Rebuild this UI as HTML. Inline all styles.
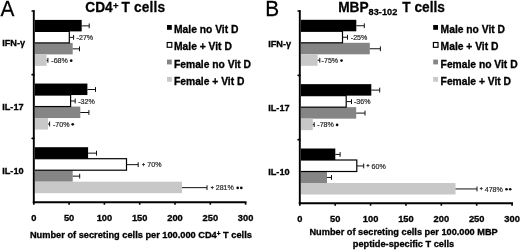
<!DOCTYPE html>
<html><head><meta charset="utf-8"><style>
html,body{margin:0;padding:0;background:#fff;}
body{width:520px;height:250px;overflow:hidden;}
svg{display:block;font-family:"Liberation Sans", sans-serif;filter:blur(0.35px);}
</style></head><body>
<svg width="520" height="250" viewBox="0 0 520 250">
<rect width="520" height="250" fill="#fff"/>
<rect x="34.80" y="19.90" width="46.90" height="11.50" fill="#000"/>
<text transform="translate(76.60,40.15) scale(1,1.1)" font-size="7.1" fill="#2a2a2a" stroke="#333" stroke-width="0.22">-27%</text>
<rect x="34.80" y="42.90" width="37.90" height="11.50" fill="#858585"/>
<rect x="34.80" y="54.40" width="11.80" height="11.50" fill="#c8c8c8"/>
<text transform="translate(51.30,63.15) scale(1,1.1)" font-size="7.1" fill="#2a2a2a" stroke="#333" stroke-width="0.22">-68%</text>
<circle cx="71.20" cy="60.65" r="1.35" fill="#111"/>
<rect x="34.80" y="83.55" width="52.60" height="11.50" fill="#000"/>
<text transform="translate(78.20,103.80) scale(1,1.1)" font-size="7.1" fill="#2a2a2a" stroke="#333" stroke-width="0.22">-32%</text>
<rect x="34.80" y="106.55" width="45.50" height="11.50" fill="#858585"/>
<rect x="34.80" y="118.05" width="13.20" height="11.50" fill="#c8c8c8"/>
<text transform="translate(53.00,126.80) scale(1,1.1)" font-size="7.1" fill="#2a2a2a" stroke="#333" stroke-width="0.22">-70%</text>
<circle cx="72.70" cy="124.30" r="1.35" fill="#111"/>
<rect x="34.80" y="147.20" width="53.30" height="11.50" fill="#000"/>
<text transform="translate(143.40,166.15) scale(1,1.1)" font-size="5.0" text-anchor="middle" fill="#2a2a2a" stroke="#333" stroke-width="0.4">+</text>
<text transform="translate(147.30,167.45) scale(1,1.1)" font-size="7.1" fill="#2a2a2a" stroke="#333" stroke-width="0.22">70%</text>
<rect x="34.80" y="170.20" width="37.90" height="11.50" fill="#858585"/>
<rect x="34.80" y="181.70" width="147.20" height="11.50" fill="#c8c8c8"/>
<text transform="translate(212.20,189.15) scale(1,1.1)" font-size="5.0" text-anchor="middle" fill="#2a2a2a" stroke="#333" stroke-width="0.4">+</text>
<text transform="translate(215.70,190.45) scale(1,1.1)" font-size="7.1" fill="#2a2a2a" stroke="#333" stroke-width="0.22">281%</text>
<circle cx="237.70" cy="187.95" r="1.35" fill="#111"/>
<circle cx="241.30" cy="187.95" r="1.35" fill="#111"/>
<rect x="34.80" y="30.80" width="35.10" height="12.70" fill="#000"/>
<rect x="34.80" y="32.00" width="33.90" height="10.30" fill="#fff"/>
<rect x="34.80" y="94.45" width="36.40" height="12.70" fill="#000"/>
<rect x="34.80" y="95.65" width="35.20" height="10.30" fill="#fff"/>
<rect x="34.80" y="158.10" width="92.30" height="12.70" fill="#000"/>
<rect x="34.80" y="159.30" width="91.10" height="10.30" fill="#fff"/>
<line x1="81.70" y1="25.85" x2="89.20" y2="25.85" stroke="#111" stroke-width="1"/>
<line x1="89.20" y1="23.45" x2="89.20" y2="28.25" stroke="#111" stroke-width="1"/>
<line x1="69.30" y1="37.35" x2="73.60" y2="37.35" stroke="#111" stroke-width="1"/>
<line x1="73.60" y1="34.95" x2="73.60" y2="39.75" stroke="#111" stroke-width="1"/>
<line x1="72.70" y1="48.85" x2="79.50" y2="48.85" stroke="#111" stroke-width="1"/>
<line x1="79.50" y1="46.45" x2="79.50" y2="51.25" stroke="#111" stroke-width="1"/>
<line x1="46.60" y1="60.35" x2="47.90" y2="60.35" stroke="#111" stroke-width="1"/>
<line x1="47.90" y1="57.95" x2="47.90" y2="62.75" stroke="#111" stroke-width="1"/>
<line x1="87.40" y1="89.50" x2="95.50" y2="89.50" stroke="#111" stroke-width="1"/>
<line x1="95.50" y1="87.10" x2="95.50" y2="91.90" stroke="#111" stroke-width="1"/>
<line x1="70.60" y1="101.00" x2="75.20" y2="101.00" stroke="#111" stroke-width="1"/>
<line x1="75.20" y1="98.60" x2="75.20" y2="103.40" stroke="#111" stroke-width="1"/>
<line x1="80.30" y1="112.50" x2="88.90" y2="112.50" stroke="#111" stroke-width="1"/>
<line x1="88.90" y1="110.10" x2="88.90" y2="114.90" stroke="#111" stroke-width="1"/>
<line x1="48.00" y1="124.00" x2="49.60" y2="124.00" stroke="#111" stroke-width="1"/>
<line x1="49.60" y1="121.60" x2="49.60" y2="126.40" stroke="#111" stroke-width="1"/>
<line x1="88.10" y1="153.15" x2="96.50" y2="153.15" stroke="#111" stroke-width="1"/>
<line x1="96.50" y1="150.75" x2="96.50" y2="155.55" stroke="#111" stroke-width="1"/>
<line x1="126.50" y1="164.65" x2="138.20" y2="164.65" stroke="#111" stroke-width="1"/>
<line x1="138.20" y1="162.25" x2="138.20" y2="167.05" stroke="#111" stroke-width="1"/>
<line x1="72.70" y1="176.15" x2="79.70" y2="176.15" stroke="#111" stroke-width="1"/>
<line x1="79.70" y1="173.75" x2="79.70" y2="178.55" stroke="#111" stroke-width="1"/>
<line x1="182.00" y1="187.65" x2="207.00" y2="187.65" stroke="#111" stroke-width="1"/>
<line x1="207.00" y1="185.25" x2="207.00" y2="190.05" stroke="#111" stroke-width="1"/>
<rect x="300.80" y="19.80" width="55.50" height="11.50" fill="#000"/>
<text transform="translate(350.80,40.05) scale(1,1.1)" font-size="7.1" fill="#2a2a2a" stroke="#333" stroke-width="0.22">-25%</text>
<rect x="300.80" y="42.80" width="69.00" height="11.50" fill="#858585"/>
<rect x="300.80" y="54.30" width="16.80" height="11.50" fill="#c8c8c8"/>
<text transform="translate(321.60,63.05) scale(1,1.1)" font-size="7.1" fill="#2a2a2a" stroke="#333" stroke-width="0.22">-75%</text>
<circle cx="341.50" cy="60.55" r="1.35" fill="#111"/>
<rect x="300.80" y="84.15" width="70.50" height="11.50" fill="#000"/>
<text transform="translate(354.00,104.40) scale(1,1.1)" font-size="7.1" fill="#2a2a2a" stroke="#333" stroke-width="0.22">-36%</text>
<rect x="300.80" y="107.15" width="55.40" height="11.50" fill="#858585"/>
<rect x="300.80" y="118.65" width="12.00" height="11.50" fill="#c8c8c8"/>
<text transform="translate(317.30,127.40) scale(1,1.1)" font-size="7.1" fill="#2a2a2a" stroke="#333" stroke-width="0.22">-78%</text>
<circle cx="337.10" cy="124.90" r="1.35" fill="#111"/>
<rect x="300.80" y="148.50" width="34.50" height="11.50" fill="#000"/>
<text transform="translate(368.00,167.45) scale(1,1.1)" font-size="5.0" text-anchor="middle" fill="#2a2a2a" stroke="#333" stroke-width="0.4">+</text>
<text transform="translate(371.50,168.75) scale(1,1.1)" font-size="7.1" fill="#2a2a2a" stroke="#333" stroke-width="0.22">60%</text>
<rect x="300.80" y="171.50" width="26.20" height="11.50" fill="#858585"/>
<rect x="300.80" y="183.00" width="154.70" height="11.50" fill="#c8c8c8"/>
<text transform="translate(481.30,190.45) scale(1,1.1)" font-size="5.0" text-anchor="middle" fill="#2a2a2a" stroke="#333" stroke-width="0.4">+</text>
<text transform="translate(484.70,191.75) scale(1,1.1)" font-size="7.1" fill="#2a2a2a" stroke="#333" stroke-width="0.22">478%</text>
<circle cx="506.50" cy="189.25" r="1.35" fill="#111"/>
<circle cx="510.20" cy="189.25" r="1.35" fill="#111"/>
<rect x="300.80" y="30.70" width="42.30" height="12.70" fill="#000"/>
<rect x="300.80" y="31.90" width="41.10" height="10.30" fill="#fff"/>
<rect x="300.80" y="95.05" width="46.00" height="12.70" fill="#000"/>
<rect x="300.80" y="96.25" width="44.80" height="10.30" fill="#fff"/>
<rect x="300.80" y="159.40" width="56.60" height="12.70" fill="#000"/>
<rect x="300.80" y="160.60" width="55.40" height="10.30" fill="#fff"/>
<line x1="356.30" y1="25.75" x2="364.30" y2="25.75" stroke="#111" stroke-width="1"/>
<line x1="364.30" y1="23.35" x2="364.30" y2="28.15" stroke="#111" stroke-width="1"/>
<line x1="342.50" y1="37.25" x2="347.50" y2="37.25" stroke="#111" stroke-width="1"/>
<line x1="347.50" y1="34.85" x2="347.50" y2="39.65" stroke="#111" stroke-width="1"/>
<line x1="369.80" y1="48.75" x2="380.40" y2="48.75" stroke="#111" stroke-width="1"/>
<line x1="380.40" y1="46.35" x2="380.40" y2="51.15" stroke="#111" stroke-width="1"/>
<line x1="317.60" y1="60.25" x2="319.80" y2="60.25" stroke="#111" stroke-width="1"/>
<line x1="319.80" y1="57.85" x2="319.80" y2="62.65" stroke="#111" stroke-width="1"/>
<line x1="371.30" y1="90.10" x2="379.70" y2="90.10" stroke="#111" stroke-width="1"/>
<line x1="379.70" y1="87.70" x2="379.70" y2="92.50" stroke="#111" stroke-width="1"/>
<line x1="346.20" y1="101.60" x2="351.50" y2="101.60" stroke="#111" stroke-width="1"/>
<line x1="351.50" y1="99.20" x2="351.50" y2="104.00" stroke="#111" stroke-width="1"/>
<line x1="356.20" y1="113.10" x2="365.00" y2="113.10" stroke="#111" stroke-width="1"/>
<line x1="365.00" y1="110.70" x2="365.00" y2="115.50" stroke="#111" stroke-width="1"/>
<line x1="312.80" y1="124.60" x2="314.20" y2="124.60" stroke="#111" stroke-width="1"/>
<line x1="314.20" y1="122.20" x2="314.20" y2="127.00" stroke="#111" stroke-width="1"/>
<line x1="335.30" y1="154.45" x2="340.10" y2="154.45" stroke="#111" stroke-width="1"/>
<line x1="340.10" y1="152.05" x2="340.10" y2="156.85" stroke="#111" stroke-width="1"/>
<line x1="356.80" y1="165.95" x2="363.70" y2="165.95" stroke="#111" stroke-width="1"/>
<line x1="363.70" y1="163.55" x2="363.70" y2="168.35" stroke="#111" stroke-width="1"/>
<line x1="327.00" y1="177.45" x2="331.50" y2="177.45" stroke="#111" stroke-width="1"/>
<line x1="331.50" y1="175.05" x2="331.50" y2="179.85" stroke="#111" stroke-width="1"/>
<line x1="455.50" y1="188.95" x2="477.00" y2="188.95" stroke="#111" stroke-width="1"/>
<line x1="477.00" y1="186.55" x2="477.00" y2="191.35" stroke="#111" stroke-width="1"/>
<line x1="33.80" y1="10.30" x2="33.80" y2="203.30" stroke="#000" stroke-width="1.9"/>
<line x1="32.80" y1="202.30" x2="246.50" y2="202.30" stroke="#000" stroke-width="1.9"/>
<line x1="32.20" y1="11.00" x2="33.80" y2="11.00" stroke="#000" stroke-width="1.7" stroke-linecap="round"/>
<line x1="32.20" y1="74.65" x2="33.80" y2="74.65" stroke="#000" stroke-width="1.7" stroke-linecap="round"/>
<line x1="32.20" y1="138.30" x2="33.80" y2="138.30" stroke="#000" stroke-width="1.7" stroke-linecap="round"/>
<line x1="33.80" y1="202.30" x2="33.80" y2="204.70" stroke="#000" stroke-width="1.6"/>
<line x1="69.10" y1="202.30" x2="69.10" y2="204.70" stroke="#000" stroke-width="1.6"/>
<line x1="104.40" y1="202.30" x2="104.40" y2="204.70" stroke="#000" stroke-width="1.6"/>
<line x1="139.70" y1="202.30" x2="139.70" y2="204.70" stroke="#000" stroke-width="1.6"/>
<line x1="175.00" y1="202.30" x2="175.00" y2="204.70" stroke="#000" stroke-width="1.6"/>
<line x1="210.30" y1="202.30" x2="210.30" y2="204.70" stroke="#000" stroke-width="1.6"/>
<line x1="245.60" y1="202.30" x2="245.60" y2="204.70" stroke="#000" stroke-width="1.6"/>
<line x1="299.80" y1="10.30" x2="299.80" y2="204.30" stroke="#000" stroke-width="1.9"/>
<line x1="298.80" y1="203.30" x2="513.00" y2="203.30" stroke="#000" stroke-width="1.9"/>
<line x1="298.20" y1="11.00" x2="299.80" y2="11.00" stroke="#000" stroke-width="1.7" stroke-linecap="round"/>
<line x1="298.20" y1="75.35" x2="299.80" y2="75.35" stroke="#000" stroke-width="1.7" stroke-linecap="round"/>
<line x1="298.20" y1="139.70" x2="299.80" y2="139.70" stroke="#000" stroke-width="1.7" stroke-linecap="round"/>
<line x1="299.80" y1="203.30" x2="299.80" y2="205.70" stroke="#000" stroke-width="1.6"/>
<line x1="335.18" y1="203.30" x2="335.18" y2="205.70" stroke="#000" stroke-width="1.6"/>
<line x1="370.56" y1="203.30" x2="370.56" y2="205.70" stroke="#000" stroke-width="1.6"/>
<line x1="405.94" y1="203.30" x2="405.94" y2="205.70" stroke="#000" stroke-width="1.6"/>
<line x1="441.32" y1="203.30" x2="441.32" y2="205.70" stroke="#000" stroke-width="1.6"/>
<line x1="476.70" y1="203.30" x2="476.70" y2="205.70" stroke="#000" stroke-width="1.6"/>
<line x1="512.08" y1="203.30" x2="512.08" y2="205.70" stroke="#000" stroke-width="1.6"/>
<text transform="translate(33.80,220.90) scale(1,1.03)" font-size="9.3" font-weight="bold" text-anchor="middle" stroke="#000" stroke-width="0.3">0</text>
<text transform="translate(69.10,220.90) scale(1,1.03)" font-size="9.3" font-weight="bold" text-anchor="middle" stroke="#000" stroke-width="0.3">50</text>
<text transform="translate(104.40,220.90) scale(1,1.03)" font-size="9.3" font-weight="bold" text-anchor="middle" stroke="#000" stroke-width="0.3">100</text>
<text transform="translate(139.70,220.90) scale(1,1.03)" font-size="9.3" font-weight="bold" text-anchor="middle" stroke="#000" stroke-width="0.3">150</text>
<text transform="translate(175.00,220.90) scale(1,1.03)" font-size="9.3" font-weight="bold" text-anchor="middle" stroke="#000" stroke-width="0.3">200</text>
<text transform="translate(210.30,220.90) scale(1,1.03)" font-size="9.3" font-weight="bold" text-anchor="middle" stroke="#000" stroke-width="0.3">250</text>
<text transform="translate(245.60,220.90) scale(1,1.03)" font-size="9.3" font-weight="bold" text-anchor="middle" stroke="#000" stroke-width="0.3">300</text>
<text transform="translate(299.80,222.30) scale(1,1.03)" font-size="9.3" font-weight="bold" text-anchor="middle" stroke="#000" stroke-width="0.3">0</text>
<text transform="translate(335.18,222.30) scale(1,1.03)" font-size="9.3" font-weight="bold" text-anchor="middle" stroke="#000" stroke-width="0.3">50</text>
<text transform="translate(370.56,222.30) scale(1,1.03)" font-size="9.3" font-weight="bold" text-anchor="middle" stroke="#000" stroke-width="0.3">100</text>
<text transform="translate(405.94,222.30) scale(1,1.03)" font-size="9.3" font-weight="bold" text-anchor="middle" stroke="#000" stroke-width="0.3">150</text>
<text transform="translate(441.32,222.30) scale(1,1.03)" font-size="9.3" font-weight="bold" text-anchor="middle" stroke="#000" stroke-width="0.3">200</text>
<text transform="translate(476.70,222.30) scale(1,1.03)" font-size="9.3" font-weight="bold" text-anchor="middle" stroke="#000" stroke-width="0.3">250</text>
<text transform="translate(512.08,222.30) scale(1,1.03)" font-size="9.3" font-weight="bold" text-anchor="middle" stroke="#000" stroke-width="0.3">300</text>
<text transform="translate(2.20,46.10) scale(1,1.0)" font-size="9.2" font-weight="bold" stroke="#000" stroke-width="0.3">IFN-&#947;</text>
<text transform="translate(2.20,110.00) scale(1,1.0)" font-size="9.2" font-weight="bold" stroke="#000" stroke-width="0.3">IL-17</text>
<text transform="translate(2.20,174.20) scale(1,1.0)" font-size="9.2" font-weight="bold" stroke="#000" stroke-width="0.3">IL-10</text>
<text transform="translate(268.20,46.70) scale(1,1.0)" font-size="9.2" font-weight="bold" stroke="#000" stroke-width="0.3">IFN-&#947;</text>
<text transform="translate(268.20,110.80) scale(1,1.0)" font-size="9.2" font-weight="bold" stroke="#000" stroke-width="0.3">IL-17</text>
<text transform="translate(268.20,174.90) scale(1,1.0)" font-size="9.2" font-weight="bold" stroke="#000" stroke-width="0.3">IL-10</text>
<text transform="translate(174.00,32.90) scale(1,1.05)" font-size="10.3" font-weight="bold" stroke="#000" stroke-width="0.3">Male no Vit D</text>
<rect x="167.00" y="25.00" width="4.8" height="4.8" fill="#000"/>
<text transform="translate(174.00,50.40) scale(1,1.05)" font-size="10.3" font-weight="bold" stroke="#000" stroke-width="0.3">Male + Vit D</text>
<rect x="167.20" y="42.50" width="4.6" height="4.8" fill="#fff" stroke="#000" stroke-width="1.15"/>
<text transform="translate(174.00,67.50) scale(1,1.05)" font-size="10.3" font-weight="bold" stroke="#000" stroke-width="0.3">Female no Vit D</text>
<rect x="167.00" y="59.60" width="4.8" height="4.8" fill="#858585"/>
<text transform="translate(174.00,84.80) scale(1,1.05)" font-size="10.3" font-weight="bold" stroke="#000" stroke-width="0.3">Female + Vit D</text>
<rect x="167.00" y="76.90" width="4.8" height="4.8" fill="#c8c8c8"/>
<text transform="translate(440.60,32.90) scale(1,1.05)" font-size="10.3" font-weight="bold" stroke="#000" stroke-width="0.3">Male no Vit D</text>
<rect x="433.20" y="25.00" width="4.8" height="4.8" fill="#000"/>
<text transform="translate(440.60,50.40) scale(1,1.05)" font-size="10.3" font-weight="bold" stroke="#000" stroke-width="0.3">Male + Vit D</text>
<rect x="433.40" y="42.50" width="4.6" height="4.8" fill="#fff" stroke="#000" stroke-width="1.15"/>
<text transform="translate(440.60,67.50) scale(1,1.05)" font-size="10.3" font-weight="bold" stroke="#000" stroke-width="0.3">Female no Vit D</text>
<rect x="433.20" y="59.60" width="4.8" height="4.8" fill="#858585"/>
<text transform="translate(440.60,84.80) scale(1,1.05)" font-size="10.3" font-weight="bold" stroke="#000" stroke-width="0.3">Female + Vit D</text>
<rect x="433.20" y="76.90" width="4.8" height="4.8" fill="#c8c8c8"/>
<text transform="translate(0.60,15.80) scale(1,1.02)" font-size="20.8" stroke="#000" stroke-width="0.25">A</text>
<text transform="translate(265.30,15.80) scale(1,1.02)" font-size="20.8" stroke="#000" stroke-width="0.25">B</text>
<text transform="translate(85.30,11.80) scale(1,1.05)" font-size="13.7" font-weight="bold" stroke="#000" stroke-width="0.25">CD4<tspan font-size="9.5" dy="-2.9" dx="0.3">+</tspan><tspan dy="2.9" dx="-0.8"> T </tspan><tspan dx="0.3" letter-spacing="0.15">cells</tspan></text>
<text transform="translate(338.20,11.70) scale(1,1.05)" font-size="13.7" font-weight="bold" stroke="#000" stroke-width="0.25">MBP<tspan font-size="9.2" dy="3">83-102</tspan><tspan dy="-3" dx="1.2"> T cells</tspan></text>
<text transform="translate(140.90,238.40) scale(1,1.05)" font-size="9.25" font-weight="bold" text-anchor="middle" stroke="#000" stroke-width="0.3">Number of secreting cells per 100.000 CD4<tspan font-size="6.5" dy="-2.2">+</tspan><tspan dy="2.2"> T cells</tspan></text>
<text transform="translate(403.60,235.30) scale(1,1.05)" font-size="9.22" font-weight="bold" text-anchor="middle" stroke="#000" stroke-width="0.3">Number of secreting cells per 100.000 MBP</text>
<text transform="translate(403.50,247.00) scale(1,1.05)" font-size="9.22" font-weight="bold" text-anchor="middle" stroke="#000" stroke-width="0.3">peptide-specific T cells</text>
</svg>
</body></html>
